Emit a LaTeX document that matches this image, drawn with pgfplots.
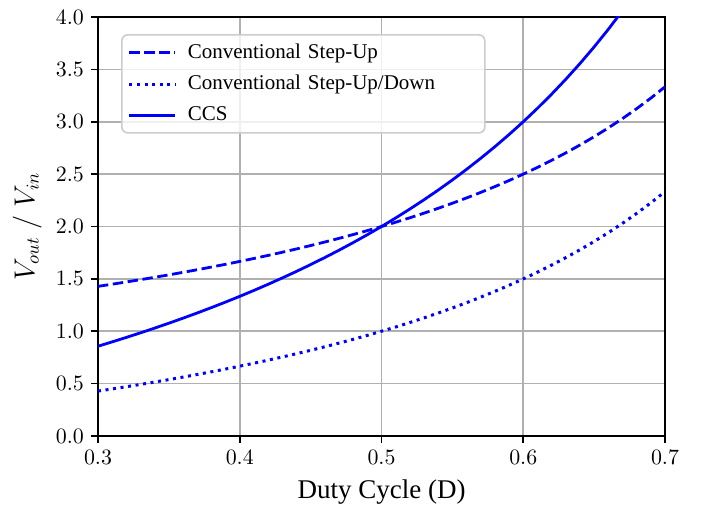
\documentclass[border=0pt]{standalone}
\usepackage{fontspec}
\setmainfont{Liberation Serif}
\usepackage{pgfplots}
\usepackage{pgfplotstable}
\pgfplotsset{compat=1.18}
\pgfplotstableread{
D up updown ccs
0.30 1.4286 0.4286 0.8571
0.31 1.4493 0.4493 0.8986
0.32 1.4706 0.4706 0.9412
0.33 1.4925 0.4925 0.9851
0.34 1.5152 0.5152 1.0303
0.35 1.5385 0.5385 1.0769
0.36 1.5625 0.5625 1.1250
0.37 1.5873 0.5873 1.1746
0.38 1.6129 0.6129 1.2258
0.39 1.6393 0.6393 1.2787
0.40 1.6667 0.6667 1.3333
0.41 1.6949 0.6949 1.3898
0.42 1.7241 0.7241 1.4483
0.43 1.7544 0.7544 1.5088
0.44 1.7857 0.7857 1.5714
0.45 1.8182 0.8182 1.6364
0.46 1.8519 0.8519 1.7037
0.47 1.8868 0.8868 1.7736
0.48 1.9231 0.9231 1.8462
0.49 1.9608 0.9608 1.9216
0.50 2.0000 1.0000 2.0000
0.51 2.0408 1.0408 2.0816
0.52 2.0833 1.0833 2.1667
0.53 2.1277 1.1277 2.2553
0.54 2.1739 1.1739 2.3478
0.55 2.2222 1.2222 2.4444
0.56 2.2727 1.2727 2.5455
0.57 2.3256 1.3256 2.6512
0.58 2.3810 1.3810 2.7619
0.59 2.4390 1.4390 2.8780
0.60 2.5000 1.5000 3.0000
0.61 2.5641 1.5641 3.1282
0.62 2.6316 1.6316 3.2632
0.63 2.7027 1.7027 3.4054
0.64 2.7778 1.7778 3.5556
0.65 2.8571 1.8571 3.7143
0.66 2.9412 1.9412 3.8824
0.67 3.0303 2.0303 4.0606
0.68 3.1250 2.1250 4.2500
0.69 3.2258 2.2258 4.4516
0.70 3.3333 2.3333 4.6667
}\datatable
\begin{document}
\begin{tikzpicture}
\begin{axis}[
  scale only axis, width=283.5pt, height=209.5pt,
  xmin=0.3, xmax=0.7, ymin=0, ymax=4,
  xtick={0.3,0.4,0.5,0.6,0.7},
  ytick={0,0.5,1,1.5,2,2.5,3,3.5,4},
  xticklabel style={/pgf/number format/.cd, fixed, fixed zerofill, precision=1},
  yticklabel style={/pgf/number format/.cd, fixed, fixed zerofill, precision=1},
  tick label style={font=\fontsize{11}{13}\selectfont},
  tick align=outside, tick pos=left, major tick length=3.5pt,
  grid=major, grid style={color=black!31, line width=0.8pt},
  axis line style={line width=0.8pt},
  every tick/.style={black, line width=0.8pt},
  xlabel={Duty Cycle (D)},
  ylabel={$V_{out}\;/\;V_{in}$},
  label style={font=\fontsize{13.5}{15}\selectfont},
  xlabel style={at={(axis description cs:0.5,-0.134)}, anchor=center},
  ylabel style={at={(axis description cs:-0.125,0.5)}, anchor=center},
  clip=true,
  legend cell align=left,
  legend image code/.code={\draw[#1] (0pt,0pt) -- (23pt,0pt);},
  legend style={at={(axis description cs:0.0406,0.9594)}, anchor=north west,
    draw=black!20, line width=0.8pt, rounded corners=3pt, fill=white, fill opacity=0.8, text opacity=1, draw opacity=1,
    font=\rmfamily\fontsize{10.5}{12}\selectfont, inner xsep=3pt, inner ysep=2.5pt, row sep=3pt,
    /tikz/column 1/.style={column sep=3.5pt},
    /tikz/column 2/.style={text width=143.5pt}},
]
\addplot[blue, line width=1.4pt, dash pattern=on 5.2pt off 2.3pt] table[x=D, y=up] {\datatable};
\addlegendentry{Conventional Step-Up}
\addplot[blue, line width=1.5pt, dash pattern=on 1.5pt off 2.3pt] table[x=D, y=updown] {\datatable};
\addlegendentry{Conventional Step-Up/Down}
\addplot[blue, line width=1.4pt] table[x=D, y=ccs] {\datatable};
\addlegendentry{CCS}
\end{axis}
\path ([xshift=-49pt,yshift=-36.5pt]current axis.south west) rectangle ([xshift=18.5pt,yshift=8.5pt]current axis.north east);
\end{tikzpicture}
\end{document}
